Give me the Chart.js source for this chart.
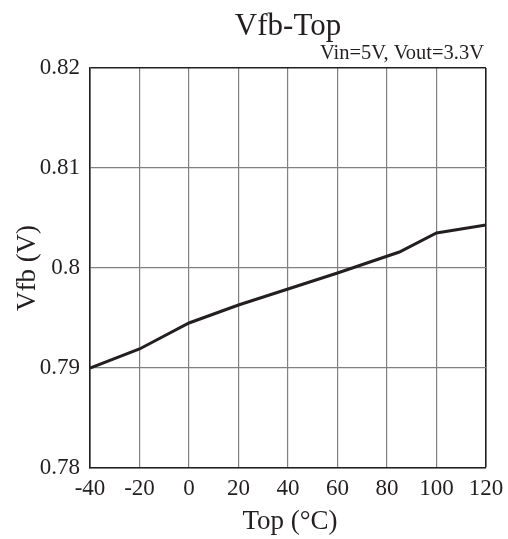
<!DOCTYPE html>
<html>
<head>
<meta charset="utf-8">
<script src="https://cdn.jsdelivr.net/npm/chart.js@4/dist/chart.umd.min.js"></script>
<style>
  html, body { margin: 0; padding: 0; background: #fff; }
  #wrap { width: 508px; height: 539px; position: relative; }
</style>
</head>
<body>
<div id="wrap"><canvas id="chart"></canvas></div>
<script>
// Vfb vs operating temperature
const temps = [-40, -20, 0, 20, 40, 60, 85, 100, 120];
const vfb = [0.7900, 0.7919, 0.7945, 0.7963, 0.7979, 0.7995, 0.8016, 0.8035, 0.8043];
const xTicks = [-40, -20, 0, 20, 40, 60, 80, 100, 120];
const yTicks = [0.78, 0.79, 0.80, 0.81, 0.82];

const SERIF = '"Liberation Serif", "Times New Roman", serif';
const INK = '#231f20';
const GRID = '#808080';

// edge grid lines are the frame of the plot, so draw them dark
const gridColor = ticks => ctx => (ctx.index === ticks.length - 1 ? INK : GRID);
const gridWidth = ticks => ctx => (ctx.index === ticks.length - 1 ? 1.6 : 1.2);

// Titles drawn relative to the chart area
const textPlugin = {
  id: 'texts',
  afterDraw(chart) {
    const { ctx, chartArea } = chart;
    ctx.save();
    ctx.fillStyle = INK;
    ctx.textBaseline = 'alphabetic';

    ctx.font = '31px ' + SERIF;
    ctx.textAlign = 'center';
    ctx.fillText('Vfb-Top', 288, 35);

    ctx.font = '20.5px ' + SERIF;
    ctx.textAlign = 'right';
    ctx.fillText('Vin=5V, Vout=3.3V', chartArea.right - 2, 59);

    ctx.font = '27px ' + SERIF;
    ctx.textAlign = 'center';
    ctx.fillText('Top (°C)', 290, 529);

    ctx.translate(35, (chartArea.top + chartArea.bottom) / 2);
    ctx.rotate(-Math.PI / 2);
    ctx.fillText('Vfb (V)', 0, 0);
    ctx.restore();
  }
};

new Chart(document.getElementById('chart'), {
  type: 'line',
  data: {
    datasets: [{
      data: temps.map((t, i) => ({ x: t, y: vfb[i] })),
      borderColor: INK,
      borderWidth: 3,
      pointRadius: 0,
      tension: 0,
      fill: false,
    }],
  },
  options: {
    responsive: true,
    maintainAspectRatio: false,
    animation: false,
    events: [],
    layout: { padding: { top: 68, right: 22, left: 0, bottom: 0 } },
    plugins: {
      legend: { display: false },
      tooltip: { enabled: false },
    },
    scales: {
      x: {
        type: 'linear',
        min: -40,
        max: 120,
        afterFit: s => {
          s.height = 71;
          s.paddingLeft = 0;
          s.paddingRight = 0;
        },
        afterBuildTicks: s => { s.ticks = xTicks.map(v => ({ value: v })); },
        grid: { color: gridColor(xTicks), lineWidth: gridWidth(xTicks), drawTicks: false },
        border: { color: INK, width: 1.6 },
        ticks: {
          color: INK,
          padding: 7,
          maxRotation: 0,
          autoSkip: false,
          font: { family: SERIF, size: 23 },
          callback: v => String(v),
        },
      },
      y: {
        min: 0.78,
        max: 0.82,
        afterFit: s => {
          s.width = 90;
          s.paddingTop = 0;
          s.paddingBottom = 0;
        },
        afterBuildTicks: s => { s.ticks = yTicks.map(v => ({ value: v })); },
        grid: { color: gridColor(yTicks), lineWidth: gridWidth(yTicks), drawTicks: false },
        border: { color: INK, width: 1.6 },
        ticks: {
          color: INK,
          padding: 10,
          autoSkip: false,
          font: { family: SERIF, size: 23 },
          callback: v => String(parseFloat(v.toFixed(2))),
        },
      },
    },
  },
  plugins: [textPlugin],
});
</script>
</body>
</html>
